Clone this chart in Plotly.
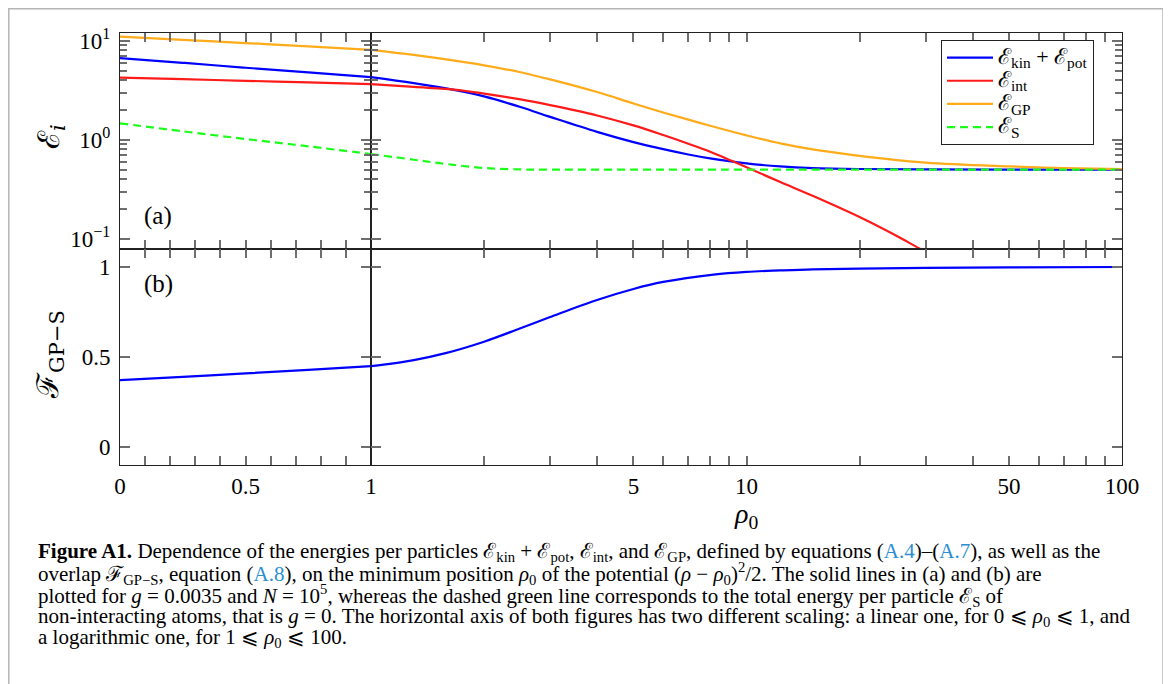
import plotly.graph_objects as go
from plotly.subplots import make_subplots

# ---------------- data ----------------
# left part of the horizontal axis: linear, 0 <= rho0 <= 1
rho_lin = [0.0, 0.25, 0.5, 0.75, 1.0]
ekp_lin = [6.69, 6.0, 5.35, 4.8, 4.30]
eint_lin = [4.26, 4.1, 3.95, 3.8, 3.65]
egp_lin = [11.0, 10.2, 9.5, 8.8, 8.1]
es_lin = [1.47, 1.22, 1.02, 0.86, 0.72]
f_lin = [0.372, 0.39, 0.409, 0.428, 0.449]

# right part: logarithmic, 1 <= rho0 <= 100
rho_ekp = [1.0, 1.3, 1.69, 2.0, 2.5, 3.0, 4.0, 5.0, 6.0, 7.0, 8.0, 10.0, 12.3, 15.0, 20.0, 30.0, 50.0, 100.0]
ekp_log = [4.30, 3.74, 3.155, 2.744, 2.145, 1.707, 1.205, 0.95, 0.806, 0.712, 0.65, 0.578, 0.539, 0.519, 0.508, 0.503, 0.5, 0.5]

rho_eint = [1.0, 1.3, 1.69, 2.0, 2.5, 3.0, 4.0, 5.0, 6.0, 7.0, 8.0, 9.13, 10.0, 12.3, 15.0, 20.0, 25.0, 28.7, 32.0]
eint_log = [3.65, 3.42, 3.2, 2.93, 2.56, 2.24, 1.764, 1.40, 1.12, 0.915, 0.76, 0.615, 0.53, 0.375, 0.272, 0.166, 0.108, 0.081, 0.065]

rho_egp = [1.0, 1.3, 1.69, 2.0, 2.5, 3.0, 4.0, 5.0, 6.0, 7.0, 8.0, 10.0, 12.3, 15.0, 20.0, 30.0, 50.0, 70.0, 100.0]
egp_log = [8.11, 7.20, 6.27, 5.66, 4.82, 4.08, 3.04, 2.33, 1.89, 1.60, 1.39, 1.11, 0.92, 0.80, 0.69, 0.59, 0.54, 0.52, 0.507]

rho_es = [1.0, 1.3, 1.59, 2.0, 2.5, 3.0, 5.0, 10.0, 30.0, 100.0]
es_log = [0.72, 0.63, 0.57, 0.52, 0.503, 0.5, 0.5, 0.5, 0.5, 0.5]

rho_f = [1.0, 1.057, 1.3, 1.59, 2.0, 2.49, 3.0, 4.0, 5.0, 6.0, 8.17, 10.0, 12.3, 15.0, 20.0, 30.0, 50.0, 100.0]
f_log = [0.449, 0.455, 0.483, 0.523, 0.585, 0.658, 0.722, 0.817, 0.878, 0.917, 0.958, 0.973, 0.981, 0.987, 0.991, 0.995, 0.998, 1.0]

names = ["ℰ<sub>kin</sub> + ℰ<sub>pot</sub>", "ℰ<sub>int</sub>", "ℰ<sub>GP</sub>", "ℰ<sub>S</sub>"]
colors = ["#0000ff", "#ff1a1a", "#ffab1a", "#1aff1a"]

# tick values / labels
x_lin_major = [0, 0.5, 1.0]
x_lin_text = ["0", "0.5", "1"]
x_lin_minor = [0.1, 0.2, 0.3, 0.4, 0.6, 0.7, 0.8, 0.9]
x_log_major = [5, 10, 50, 100]
x_log_text = ["5", "10", "50", "100"]
x_log_minor = [2, 3, 4, 6, 7, 8, 9, 20, 30, 40, 60, 70, 80, 90]
ya_major = [0.1, 1, 10]
ya_major_text = ["10<sup>−1</sup>", "10<sup>0</sup>", "10<sup>1</sup>"]
ya_minor = [0.2, 0.3, 0.4, 0.5, 0.6, 0.7, 0.8, 0.9, 2, 3, 4, 5, 6, 7, 8, 9]
yb_ticks = [0, 0.5, 1]
yb_text = ["0", "0.5", "1"]

# ---------------- figure ----------------
OFF = 8                      # page offset of the plot div (body margin)
W, H = 1171 - OFF, 684 - OFF
L, T = 120 - OFF, 33 - OFF
PW, PH = 1002, 432
R, B = W - L - PW, H - T - PH

fig = make_subplots(rows=2, cols=2, horizontal_spacing=0, vertical_spacing=0,
                    column_widths=[251, 751], row_heights=[0.5, 0.5])

lw = 2.2
sm = 1.0
series_lin = [ekp_lin, eint_lin, egp_lin, es_lin]
series_log = [(rho_ekp, ekp_log), (rho_eint, eint_log), (rho_egp, egp_log), (rho_es, es_log)]
leg_names = ["<span style='font-size:22px'>" + n + "</span>" for n in names]
for i in range(4):
    dash = "8px,5px" if i == 3 else "solid"
    fig.add_trace(go.Scatter(x=rho_lin, y=series_lin[i], mode="lines", name=leg_names[i],
                             line=dict(color=colors[i], width=lw, dash=dash, shape="spline", smoothing=sm),
                             legendrank=i + 1), row=1, col=1)
    fig.add_trace(go.Scatter(x=series_log[i][0], y=series_log[i][1], mode="lines", name=names[i],
                             showlegend=False,
                             line=dict(color=colors[i], width=lw, dash=dash, shape="spline", smoothing=sm)),
                  row=1, col=2)

fig.add_trace(go.Scatter(x=rho_lin, y=f_lin, mode="lines", showlegend=False,
                         line=dict(color="#0000ff", width=lw, shape="spline", smoothing=sm)), row=2, col=1)
fig.add_trace(go.Scatter(x=rho_f, y=f_log, mode="lines", showlegend=False,
                         line=dict(color="#0000ff", width=lw, shape="spline", smoothing=sm)), row=2, col=2)

TICKC = "#6e6e6e"
axcommon = dict(showline=True, linecolor="#222222", linewidth=1, mirror="ticks", ticks="inside",
                tickcolor=TICKC, tickwidth=1.5, showgrid=False, zeroline=False, automargin=False)
tickfont = dict(family="Liberation Serif", size=23, color="black")


def minor_ticks(vals, ln):
    return dict(tickmode="array", tickvals=vals, ticks="inside", ticklen=ln,
                tickcolor=TICKC, tickwidth=1.5, showgrid=False)


for r in (1, 2):
    fig.update_xaxes(row=r, col=1, type="linear", range=[0, 1], tickmode="array",
                     tickvals=x_lin_major, ticktext=x_lin_text, ticklen=9,
                     minor=minor_ticks(x_lin_minor, 9),
                     showticklabels=(r == 2), tickfont=tickfont, **axcommon)
    fig.update_xaxes(row=r, col=2, type="log", range=[0, 2], tickmode="array",
                     tickvals=x_log_major, ticktext=x_log_text, ticklen=9,
                     minor=minor_ticks(x_log_minor, 9),
                     showticklabels=(r == 2), tickfont=tickfont, **axcommon)

for c in (1, 2):
    fig.update_yaxes(row=1, col=c, type="log", range=[-1.102, 1.079], tickmode="array",
                     tickvals=ya_major, ticktext=ya_major_text, ticklen=10,
                     minor=minor_ticks(ya_minor, 7),
                     showticklabels=(c == 1), tickfont=tickfont, ticklabelstandoff=4, **axcommon)
    fig.update_yaxes(row=2, col=c, type="linear", range=[-0.1, 1.1], tickmode="array",
                     tickvals=yb_ticks, ticktext=yb_text, ticklen=10,
                     showticklabels=(c == 1), tickfont=tickfont, ticklabelstandoff=4, **axcommon)


def px(xp):
    return (xp - OFF - L) / PW


def py(yp):
    return (T + PH - (yp - OFF)) / PH


ann = []
ann.append(dict(text="(a)", x=px(158), y=py(216), xref="paper", yref="paper", showarrow=False,
                xanchor="center", yanchor="middle",
                font=dict(family="Liberation Serif", size=25, color="black")))
ann.append(dict(text="(b)", x=px(158), y=py(284), xref="paper", yref="paper", showarrow=False,
                xanchor="center", yanchor="middle",
                font=dict(family="Liberation Serif", size=25, color="black")))
ann.append(dict(text="ℰ<sub><i>i</i></sub>", x=px(50), y=py(137), xref="paper", yref="paper",
                showarrow=False, textangle=-90, xanchor="center", yanchor="middle",
                font=dict(family="DejaVu Serif", size=30, color="black")))
ann.append(dict(text="ℱ<sub>GP−S</sub>", x=px(49), y=py(355), xref="paper", yref="paper",
                showarrow=False, textangle=-90, xanchor="center", yanchor="middle",
                font=dict(family="DejaVu Serif", size=30, color="black")))
ann.append(dict(text="<i>ρ</i><sub>0</sub>", x=px(746), y=py(515), xref="paper", yref="paper",
                showarrow=False, xanchor="center", yanchor="middle",
                font=dict(family="Liberation Serif", size=28, color="black")))

link = "#2a8fd2"
cap = [
    "<b>Figure A1.</b> Dependence of the energies per particles ℰ<sub>kin</sub> + ℰ<sub>pot</sub>, ℰ<sub>int</sub>, and ℰ<sub>GP</sub>, defined by equations "
    f"(<span style='color:{link}'>A.4</span>)–(<span style='color:{link}'>A.7</span>), as well as the",
    f"overlap ℱ<sub>GP−S</sub>, equation (<span style='color:{link}'>A.8</span>), on the minimum position <i>ρ</i><sub>0</sub> of the potential (<i>ρ</i> − <i>ρ</i><sub>0</sub>)<sup>2</sup>/2. The solid lines in (a) and (b) are",
    "plotted for <i>g</i> = 0.0035 and <i>N</i> = 10<sup>5</sup>, whereas the dashed green line corresponds to the total energy per particle ℰ<sub>S</sub> of",
    "non-interacting atoms, that is <i>g</i> = 0. The horizontal axis of both figures has two different scaling: a linear one, for 0 ⩽ <i>ρ</i><sub>0</sub> ⩽ 1, and",
    "a logarithmic one, for 1 ⩽ <i>ρ</i><sub>0</sub> ⩽ 100.",
]
for k, line in enumerate(cap):
    ann.append(dict(text=line, x=px(36), y=py(552 + 21.5 * k), xref="paper", yref="paper",
                    xanchor="left", yanchor="middle", showarrow=False, align="left",
                    font=dict(family="Liberation Serif", size=21, color="black")))

fig.update_layout(
    width=W, height=H, margin=dict(l=L, r=R, t=T, b=B),
    paper_bgcolor="white", plot_bgcolor="white",
    font=dict(family="Liberation Serif", size=22, color="black"),
    annotations=ann,
    legend=dict(x=px(941), y=py(40), xanchor="left", yanchor="top",
                bgcolor="white", bordercolor="#222222", borderwidth=1,
                font=dict(family="Liberation Serif", size=15.5, color="black"),
                tracegroupgap=0, itemwidth=46),
    shapes=[dict(type="rect", xref="paper", yref="paper",
                 x0=px(8.8), x1=px(1163), y0=py(720), y1=py(8.8),
                 line=dict(color="#b5b5b5", width=1.5), fillcolor="rgba(0,0,0,0)", layer="below")],
)

fig.write_html("out.html")
